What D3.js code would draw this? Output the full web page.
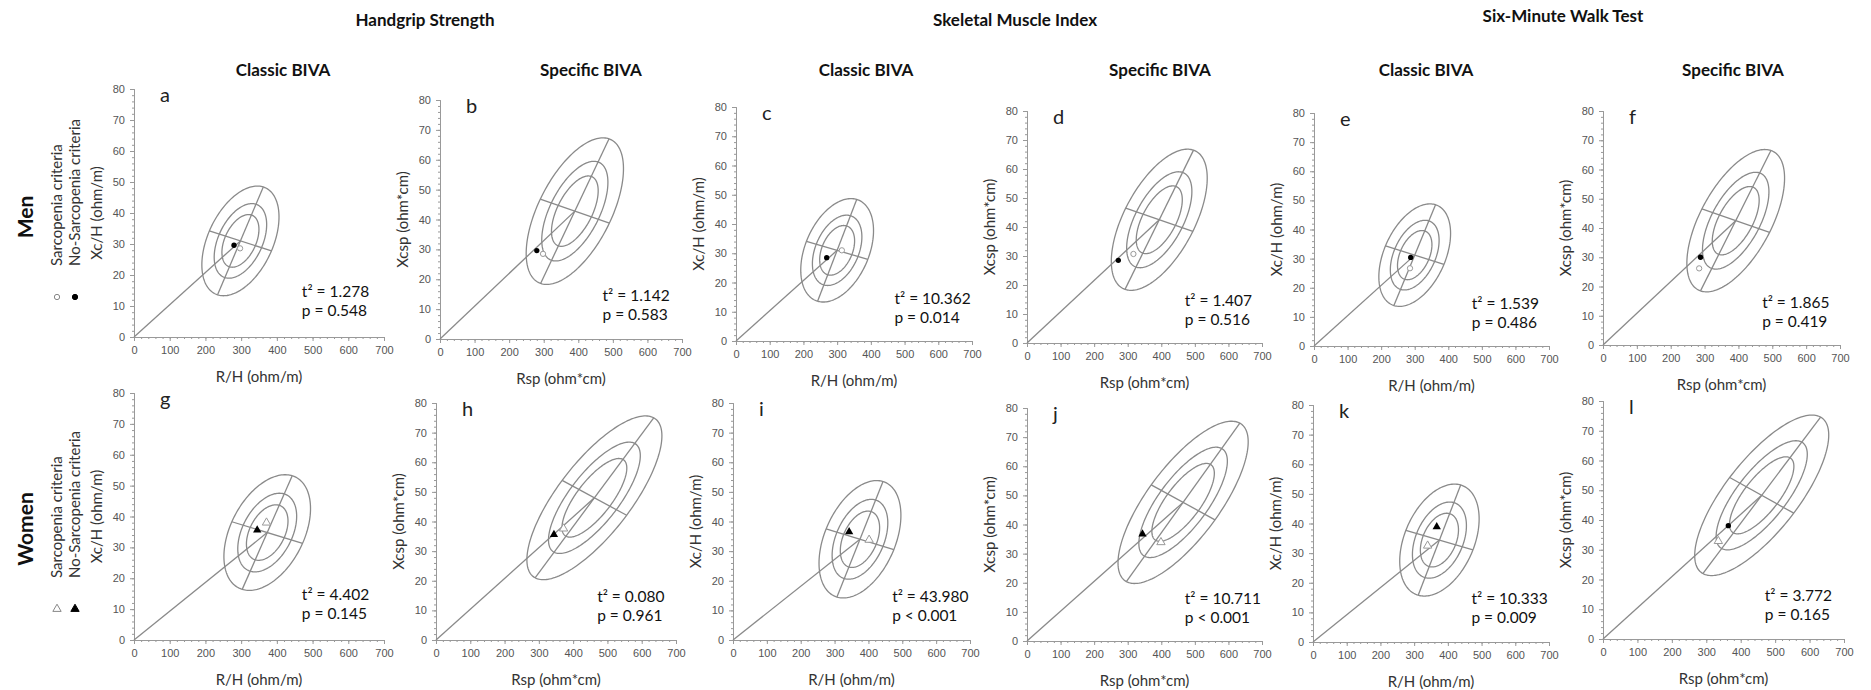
<!DOCTYPE html>
<html lang="en">
<head>
<meta charset="UTF-8">
<title>BIVA ellipses</title>
<script src="https://d3js.org/d3.v7.min.js"></script>
<style>
    body { margin: 0; background: #fff; }
    svg text { font-family: Lato, "Open Sans", sans-serif; }
    .tick text { font-family: "Liberation Sans", Arial, sans-serif; font-size: 11px; fill: #555; }
    .axis path, .axis line { stroke: #999; }
    .ell { fill: none; stroke: #8a8a8a; stroke-width: 1.3px; }
    .group-title { font-weight: bold; font-size: 17px; fill: #111; }
    .biva-title { font-weight: bold; font-size: 17px; fill: #111; }
    .axis-title { font-size: 15px; fill: #333; }
    .stat { font-size: 15.5px; fill: #111; }
    .letter { font-size: 20px; fill: #222; }
    .row-title { font-weight: bold; font-size: 21px; fill: #111; }
    .legend { font-size: 15px; fill: #333; }
</style>
</head>
<body>
<svg id="fig" width="1871" height="690"></svg>
<script>
    // ---- data ----
    const panelIds = ["a", "b", "c", "d", "e", "f", "g", "h", "i", "j", "k", "l"];
    const bivaType = ["classic", "specific", "classic", "specific", "classic", "specific",
                      "classic", "specific", "classic", "specific", "classic", "specific"];
    const groupTitles = ["Handgrip Strength", "Skeletal Muscle Index", "Six-Minute Walk Test"];
    const rowTitles = ["Men", "Women"];
    const legendLabels = ["Sarcopenia criteria", "No-Sarcopenia criteria"];

    // reference ellipse (95%): centre, half major axis, half minor axis  [R, Xc]
    const ellCenter = [[298, 31], [390, 42.8], [300, 31], [394, 42.5], [300, 31.2], [392, 42.5],
                       [373, 34.8], [462, 48], [375, 34], [465, 47.6], [375, 34.4], [461, 48.3]];
    const ellMajor = [[64, 17.4], [99, 24.2], [58, 17.4], [102, 24], [62, 17.3], [104, 24],
                      [70, 18.4], [173, 27], [68, 19.5], [169, 27.2], [63, 18.6], [171, 26.3]];
    const ellMinor = [[87, -3.2], [100, -4], [91, -3.1], [100, -4], [87, -3.2], [100, -4],
                      [99, -3.5], [94, -5.9], [100, -3.5], [95, -6], [99.5, -3.3], [93, -6]];
    const ellLevels = [0.48, 0.68, 1];   // 50%, 75%, 95% tolerance ellipses

    // group means
    const noSarcopenia = [[280, 29.6], [280, 29.6], [269, 28.5], [272, 28.5], [288, 30.4], [288, 30],
                          [345, 35.6], [344, 35.6], [343, 36.5], [344, 36.7], [367, 38.9], [364, 38.1]];
    const sarcopenia = [[297, 28.6], [298, 28.5], [314, 31], [317, 30.7], [286, 26.7], [284, 26.2],
                        [371, 38], [372, 37.6], [402, 33.8], [399, 33.9], [340, 32.5], [335, 32.9]];

    const t2Values = ["1.278", "1.142", "10.362", "1.407", "1.539", "1.865",
                      "4.402", "0.080", "43.980", "10.711", "10.333", "3.772"];
    const pValues = ["= 0.548", "= 0.583", "= 0.014", "= 0.516", "= 0.486", "= 0.419",
                     "= 0.145", "= 0.961", "< 0.001", "< 0.001", "= 0.009", "= 0.165"];

    const xTicks = [0, 100, 200, 300, 400, 500, 600, 700];
    const yTicks = [0, 10, 20, 30, 40, 50, 60, 70, 80];

    // ---- layout (pixel boxes of each plot area) ----
    const boxes = [
        [134, 384, 89, 337], [440, 682, 100, 339], [736, 972, 107, 341],
        [1027, 1262, 111, 343], [1314, 1549, 113, 346], [1603, 1840, 111, 345],
        [134, 384, 393, 640], [436, 676, 403, 640], [733, 970, 403, 640],
        [1027, 1262, 408, 641], [1313, 1549, 405, 642], [1603, 1844, 401, 639]
    ];
    const bivaHeaderX = [283, 591, 866, 1160, 1426, 1733];
    const groupHeaderX = [425, 1015, 1563];

    const svg = d3.select("#fig");
    svg.append("rect").attr("width", 1871).attr("height", 690).attr("fill", "#fff");

    // group headers
    svg.selectAll(".group-title").data(groupTitles).enter().append("text")
        .attr("class", "group-title")
        .attr("x", (d, i) => groupHeaderX[i])
        .attr("y", (d, i) => i === 2 ? 22 : 26)
        .attr("text-anchor", "middle")
        .text(d => d);

    svg.selectAll(".biva-title").data(bivaHeaderX).enter().append("text")
        .attr("class", "biva-title")
        .attr("x", d => d)
        .attr("y", 76)
        .attr("text-anchor", "middle")
        .text((d, i) => i % 2 === 0 ? "Classic BIVA" : "Specific BIVA");

    // row titles and legend
    const rowCenters = [217, 529];
    const legendBase = [266, 578];
    rowTitles.forEach((name, r) => {
        svg.append("text").attr("class", "row-title")
            .attr("transform", `translate(33,${rowCenters[r]}) rotate(-90)`)
            .attr("text-anchor", "middle")
            .text(name);
        legendLabels.forEach((lab, k) => {
            const lx = 62 + k * 18;
            svg.append("text").attr("class", "legend")
                .attr("transform", `translate(${lx},${legendBase[r]}) rotate(-90)`)
                .text(lab);
            const sym = d3.symbol().type(r === 0 ? d3.symbolCircle : d3.symbolTriangle)
                .size(r === 0 ? 22 : 30);
            svg.append("path")
                .attr("d", sym())
                .attr("transform", `translate(${lx - 5},${legendBase[r] + 31})`)
                .attr("fill", k === 0 ? "#fff" : "#000")
                .attr("stroke", k === 0 ? "#888" : "#000")
                .attr("stroke-width", 1);
        });
    });

    // ---- panels ----
    panelIds.forEach((id, p) => {
        const [px0, px1, pyTop, pyBot] = boxes[p];
        const x = d3.scaleLinear().domain([0, 700]).range([px0, px1]);
        const y = d3.scaleLinear().domain([0, 80]).range([pyBot, pyTop]);
        const g = svg.append("g");
        const classic = bivaType[p] === "classic";
        const women = p >= 6;

        // axes: minor then major ticks
        g.append("g").attr("class", "axis")
            .attr("transform", `translate(0,${pyBot})`)
            .call(d3.axisBottom(x).tickValues(d3.range(0, 701, 20)).tickSize(2).tickFormat(""));
        g.append("g").attr("class", "axis")
            .attr("transform", `translate(0,${pyBot})`)
            .call(d3.axisBottom(x).tickValues(xTicks).tickSize(4).tickPadding(5));
        g.append("g").attr("class", "axis")
            .attr("transform", `translate(${px0},0)`)
            .call(d3.axisLeft(y).tickValues(d3.range(0, 81, 2)).tickSize(2).tickFormat(""));
        g.append("g").attr("class", "axis")
            .attr("transform", `translate(${px0},0)`)
            .call(d3.axisLeft(y).tickValues(yTicks).tickSize(4).tickPadding(5));

        // axis titles
        g.append("text").attr("class", "axis-title")
            .attr("x", (px0 + px1) / 2).attr("y", pyBot + 45)
            .attr("text-anchor", "middle")
            .text(classic ? "R/H (ohm/m)" : "Rsp (ohm*cm)");
        g.append("text").attr("class", "axis-title")
            .attr("transform", `translate(${px0 - 32},${(pyTop + pyBot) / 2}) rotate(-90)`)
            .attr("text-anchor", "middle")
            .text(classic ? "Xc/H (ohm/m)" : "Xcsp (ohm*cm)");

        // panel letter
        g.append("text").attr("class", "letter")
            .attr("x", px0 + 26).attr("y", pyTop + 13)
            .text(id);

        // tolerance ellipses
        const c = ellCenter[p], u = ellMajor[p], v = ellMinor[p];
        const angles = d3.range(0, 2 * Math.PI, Math.PI / 90);
        const line = d3.line().x(d => x(d[0])).y(d => y(d[1]));
        ellLevels.forEach(s => {
            const pts = angles.map(t => [
                c[0] + s * (u[0] * Math.cos(t) + v[0] * Math.sin(t)),
                c[1] + s * (u[1] * Math.cos(t) + v[1] * Math.sin(t))
            ]);
            g.append("path").attr("class", "ell")
                .attr("d", line.curve(d3.curveLinearClosed)(pts));
        });
        const straight = d3.line().x(d => x(d[0])).y(d => y(d[1]));
        [[[c[0] - u[0], c[1] - u[1]], [c[0] + u[0], c[1] + u[1]]],
         [[c[0] - v[0], c[1] - v[1]], [c[0] + v[0], c[1] + v[1]]],
         [[0, 0], c]].forEach(seg => {
            g.append("path").attr("class", "ell").attr("d", straight(seg));
        });

        // group means
        const filledShape = women && id !== "l" ? d3.symbolTriangle : d3.symbolCircle;
        const openShape = women ? d3.symbolTriangle : d3.symbolCircle;
        g.append("path")
            .attr("d", d3.symbol().type(openShape).size(women ? 30 : 22)())
            .attr("transform", `translate(${x(sarcopenia[p][0])},${y(sarcopenia[p][1])})`)
            .attr("fill", "#fff").attr("stroke", "#999").attr("stroke-width", 1);
        g.append("path")
            .attr("d", d3.symbol().type(filledShape).size(women && id !== "l" ? 30 : 22)())
            .attr("transform", `translate(${x(noSarcopenia[p][0])},${y(noSarcopenia[p][1])})`)
            .attr("fill", "#000");

        // statistics
        const sx = x(470), sy = y(14.5) + 5;
        g.append("text").attr("class", "stat").attr("x", sx).attr("y", sy)
            .text("t² = " + t2Values[p]);
        g.append("text").attr("class", "stat").attr("x", sx).attr("y", sy + 19)
            .text("p " + pValues[p]);
    });
</script>
</body>
</html>
